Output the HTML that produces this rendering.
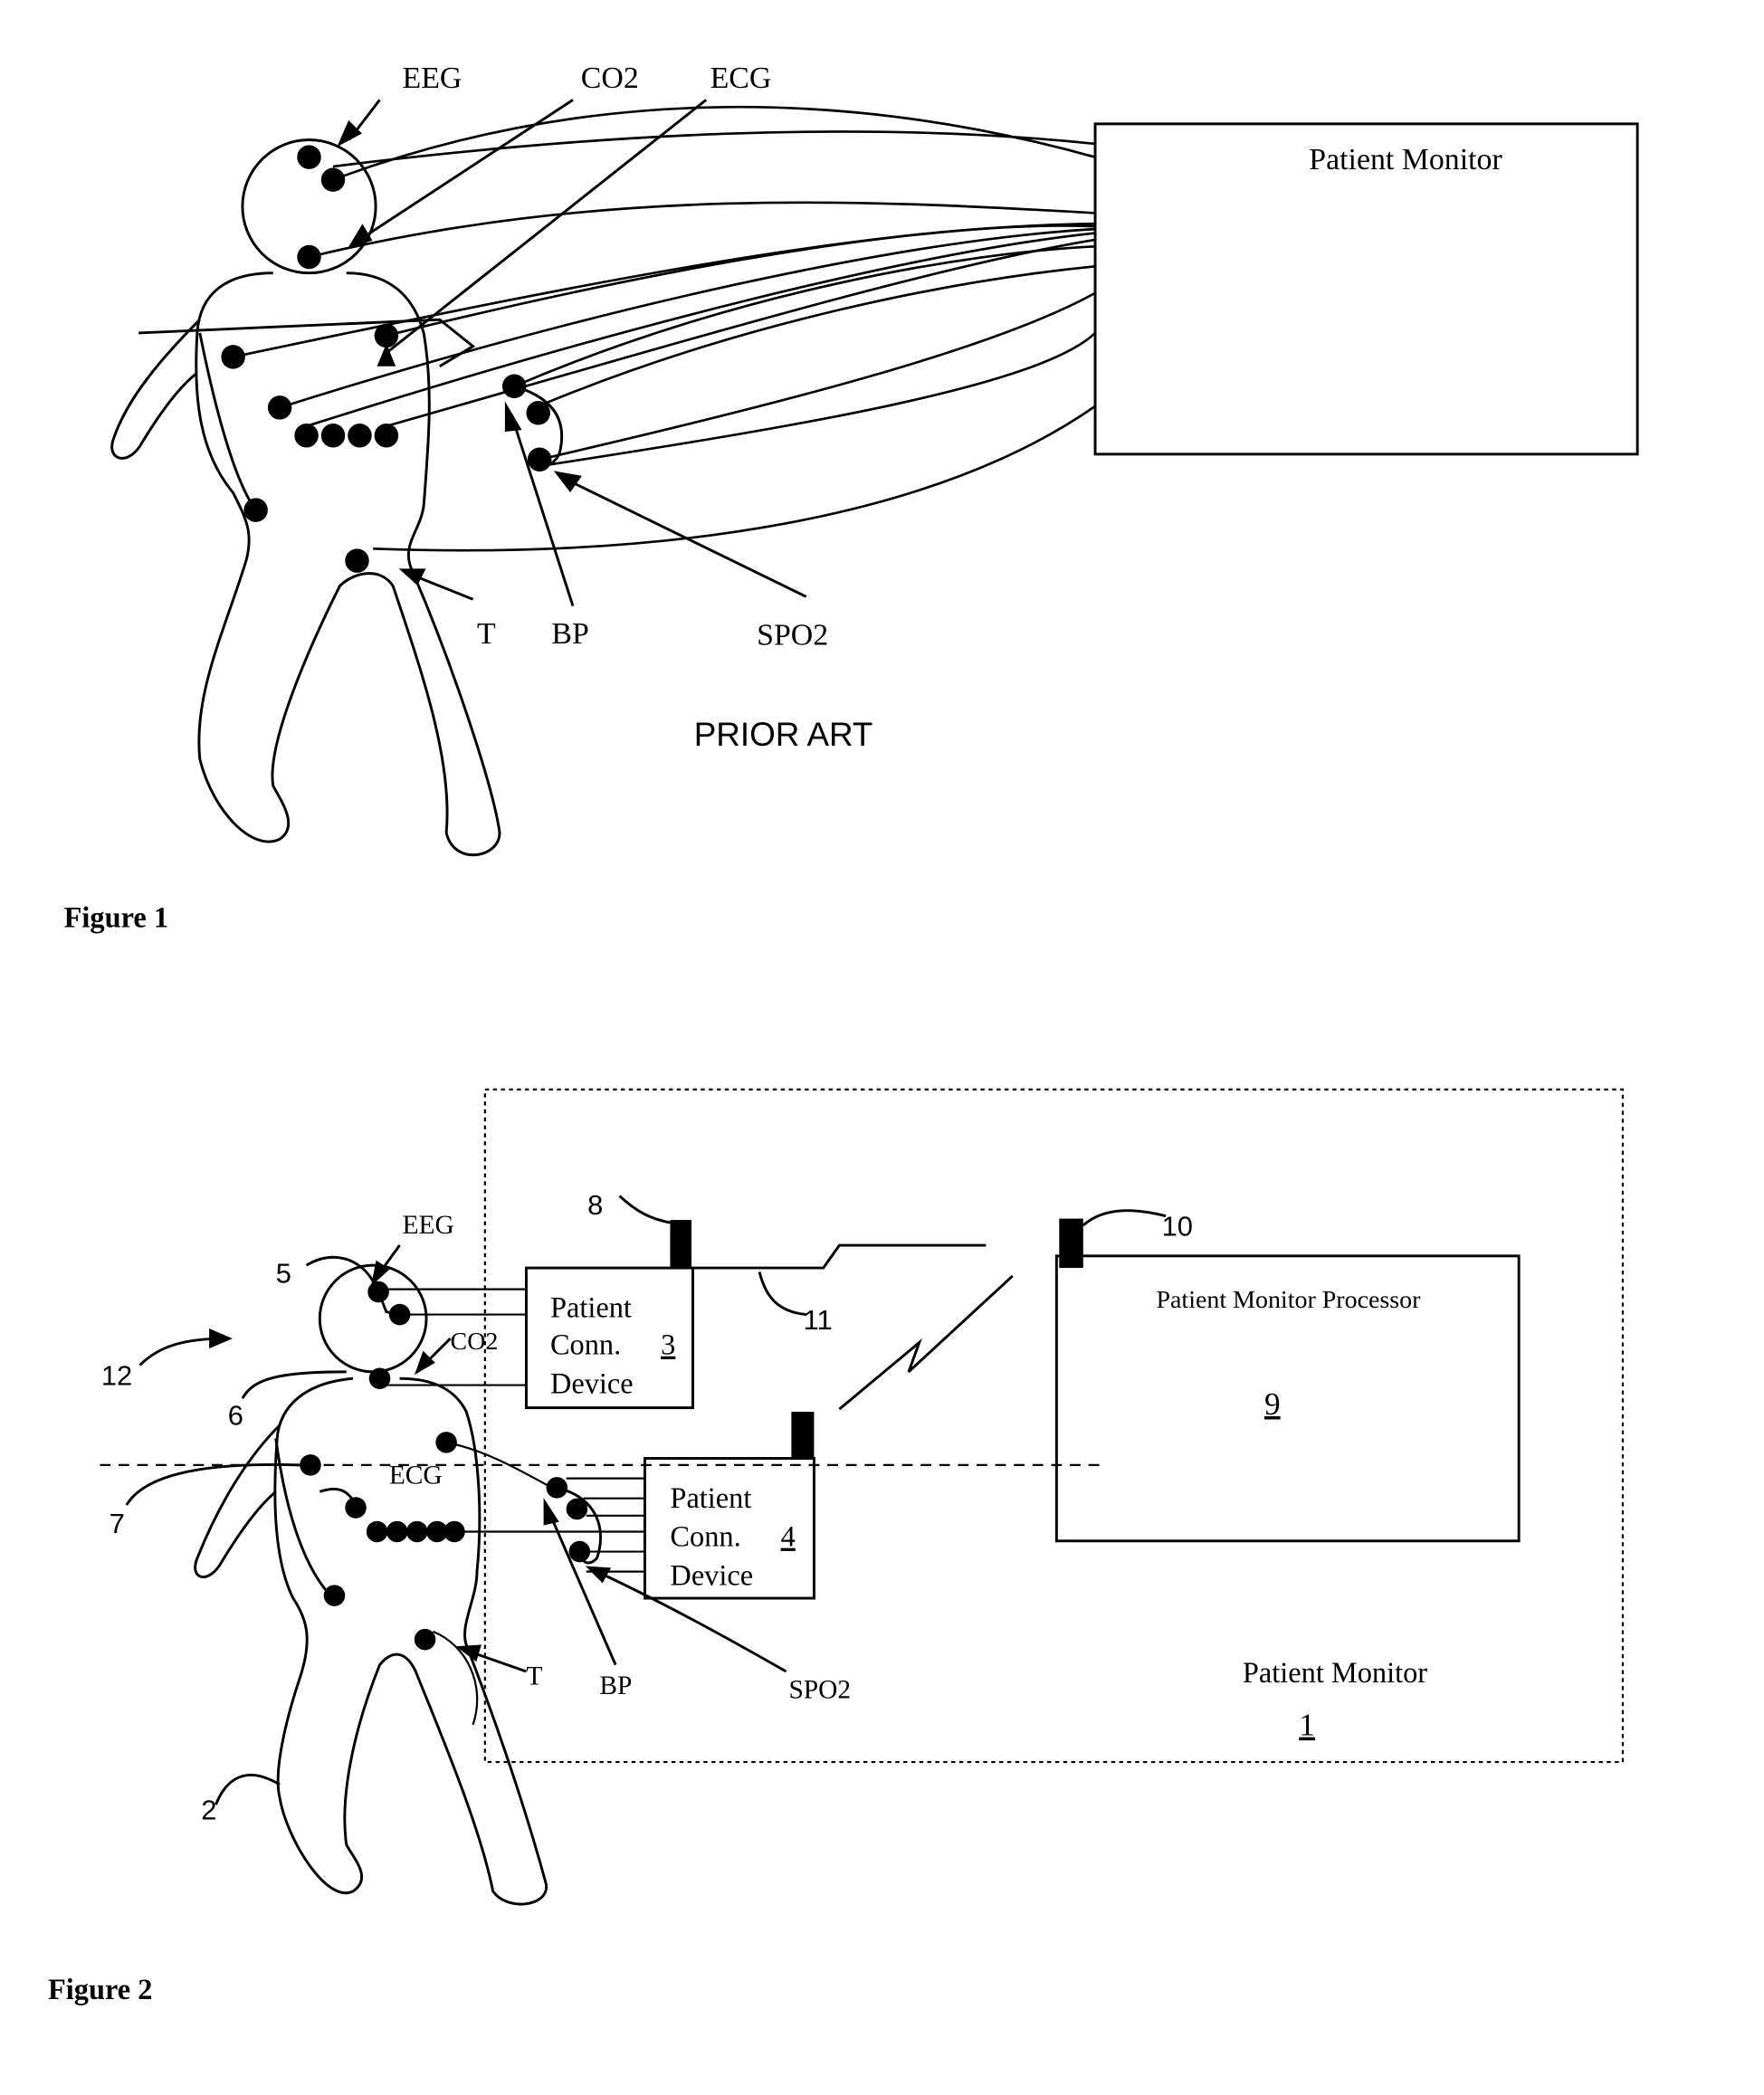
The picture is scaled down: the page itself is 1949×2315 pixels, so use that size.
<!DOCTYPE html>
<html><head><meta charset="utf-8"><style>html,body{margin:0;padding:0;background:#fff}svg{display:block}</style></head><body>
<svg width="1949" height="2315" viewBox="0 0 1324 1573" preserveAspectRatio="none" xmlns="http://www.w3.org/2000/svg" font-family="Liberation Serif, serif" fill="none" stroke="#000" stroke-width="2">
<!-- FIGURE 1 -->
<circle cx="232" cy="155" r="50"/>
<path d="M205 205 C170 205 150 220 148 250 C145 300 150 340 175 370 C185 390 190 400 185 420 C170 470 145 520 150 570 C160 610 190 640 210 630 C225 620 210 600 205 590 C200 560 230 490 255 440 C265 430 285 425 295 440 C315 500 340 570 335 625 C340 650 375 645 375 625 C370 590 340 500 310 430 C300 410 315 400 318 380 C322 330 325 290 318 250 C310 220 290 205 260 205"/>
<path d="M150 240 C120 270 95 300 85 330 C80 345 95 350 105 335 C120 310 135 290 148 280"/>
<path d="M104 250 L330 240 L355 260 L330 275"/>
<path d="M150 250 C160 300 175 360 192 383"/>
<g fill="#000" stroke="none">
<circle cx="232" cy="118" r="9"/><circle cx="250" cy="135" r="9"/><circle cx="232" cy="193" r="9"/>
<circle cx="175" cy="268" r="9"/><circle cx="290" cy="252" r="9"/><circle cx="210" cy="306" r="9"/>
<circle cx="230" cy="327" r="9"/><circle cx="250" cy="327" r="9"/><circle cx="270" cy="327" r="9"/><circle cx="290" cy="327" r="9"/>
<circle cx="386" cy="290" r="9"/><circle cx="404" cy="310" r="9"/><circle cx="405" cy="345" r="9"/>
<circle cx="192" cy="383" r="9"/><circle cx="268" cy="421" r="9"/>
<path d="M290 258 L283 275 L297 275 Z"/>
</g>
<path d="M386 290 C420 300 425 320 420 340 C415 352 405 350 405 345" />
<rect x="822" y="93" width="407" height="248"/>
<text x="1055" y="127" font-size="23" text-anchor="middle" fill="#000" stroke="none">Patient Monitor</text>
<g stroke-width="1.8">
<path d="M250 125 C450 100 650 90 822 108"/>
<path d="M250 135 C450 60 650 70 822 118"/>
<path d="M232 193 C450 140 650 150 822 160"/>
<path d="M175 268 C450 210 650 170 822 168"/>
<path d="M290 252 C500 200 700 165 822 170"/>
<path d="M210 306 C450 230 680 180 822 172"/>
<path d="M230 320 C450 250 680 190 822 175"/>
<path d="M290 320 C500 260 700 200 822 180"/>
<path d="M386 290 C550 220 720 190 822 185"/>
<path d="M404 305 C560 240 720 210 822 200"/>
<path d="M405 345 C600 300 750 260 822 220"/>
<path d="M405 350 C600 320 780 290 822 250"/>
<path d="M280 412 C500 420 700 390 822 305"/>
</g>
<!-- arrows fig1 -->
<path d="M285 75 L262 105"/><path d="M255 108 L262 92 L270 100 Z" fill="#000"/>
<path d="M430 75 L270 180"/><path d="M263 185 L272 170 L278 180 Z" fill="#000"/>
<path d="M530 75 L290 265"/>
<path d="M430 455 L385 315"/><path d="M380 305 L390 322 L380 323 Z" fill="#000"/>
<path d="M605 448 L425 360"/><path d="M418 355 L435 358 L428 368 Z" fill="#000"/>
<path d="M355 450 L310 432"/><path d="M302 428 L318 428 L313 438 Z" fill="#000"/>
<g fill="#000" stroke="none" font-size="23">
<text x="302" y="66">EEG</text><text x="436" y="66">CO2</text><text x="533" y="66">ECG</text>
<text x="358" y="483">T</text><text x="414" y="483">BP</text><text x="568" y="484">SPO2</text>
<text x="588" y="560" text-anchor="middle" font-family="Liberation Sans, sans-serif" font-size="25">PRIOR ART</text>
<text x="48" y="696" font-weight="bold" font-size="22">Figure 1</text>
</g>
<!-- FIGURE 2 -->
<rect x="364" y="818" width="854" height="505" stroke-dasharray="3 3" stroke-width="1.5"/>
<path d="M75 1100 L830 1100" stroke-dasharray="8 6" stroke-width="1.5"/>
<circle cx="280" cy="990" r="40"/>
<path d="M265 1035 C230 1038 210 1055 208 1080 C205 1120 205 1170 220 1200 C230 1215 235 1230 225 1260 C215 1290 205 1330 210 1350 C215 1380 245 1430 265 1420 C280 1410 265 1395 260 1385 C255 1350 265 1300 285 1250 C295 1238 305 1240 312 1255 C330 1300 360 1370 370 1420 C380 1435 412 1432 410 1415 C395 1360 375 1300 350 1235 C345 1220 358 1200 358 1180 C362 1140 360 1090 350 1060 C340 1040 320 1035 300 1035"/>
<path d="M210 1070 C180 1100 160 1140 148 1170 C142 1185 155 1190 165 1175 C180 1150 195 1130 207 1120"/>
<path d="M207 1080 C215 1140 230 1180 250 1200"/>
<g fill="#000" stroke="none">
<circle cx="284" cy="970" r="8"/><circle cx="300" cy="987" r="8"/><circle cx="285" cy="1035" r="8"/>
<circle cx="335" cy="1083" r="8"/><circle cx="233" cy="1100" r="8"/><circle cx="267" cy="1132" r="8"/>
<circle cx="283" cy="1150" r="8"/><circle cx="298" cy="1150" r="8"/><circle cx="313" cy="1150" r="8"/><circle cx="328" cy="1150" r="8"/><circle cx="341" cy="1150" r="8"/>
<circle cx="418" cy="1117" r="8"/><circle cx="433" cy="1133" r="8"/><circle cx="435" cy="1165" r="8"/>
<circle cx="251" cy="1198" r="8"/><circle cx="319" cy="1231" r="8"/>
</g>
<path d="M284 970 L290 985 L300 987"/>
<path d="M418 1117 C450 1125 455 1150 448 1170 C440 1178 435 1170 435 1165"/>
<g stroke-width="1.5">
<path d="M290 968 L395 968"/><path d="M305 987 L395 987"/><path d="M290 1040 L395 1040"/>
<path d="M335 1083 C370 1090 400 1110 420 1120"/>
<path d="M425 1110 L484 1110"/><path d="M438 1125 L484 1125"/><path d="M440 1138 L484 1138"/>
<path d="M340 1150 L484 1150"/><path d="M440 1165 L484 1165"/><path d="M440 1180 L484 1180"/>
<path d="M325 1225 C350 1235 365 1265 355 1295"/>
</g>
<rect x="395" y="952" width="125" height="105"/>
<rect x="484" y="1095" width="127" height="105"/>
<rect x="793" y="943" width="347" height="214"/>
<g fill="#000" stroke="none">
<rect x="503" y="916" width="16" height="36"/>
<rect x="594" y="1060" width="17" height="35"/>
<rect x="795" y="915" width="18" height="37"/>
</g>
<path d="M520 952 L618 952 L630 935 L740 935"/>
<path d="M630 1058 L690 1008 L682 1030 L760 958"/>
<path d="M570 955 C575 975 585 985 605 987"/>
<path d="M465 898 C478 910 488 915 503 918"/>
<path d="M813 920 C830 905 855 908 875 913"/>
<path d="M230 950 C250 938 270 945 280 962"/>
<path d="M182 1050 C190 1035 210 1030 260 1030"/>
<path d="M95 1130 C110 1105 160 1098 225 1100"/>
<path d="M105 1025 C120 1010 140 1005 170 1005"/><path d="M172 1005 L158 999 L158 1011 Z" fill="#000"/>
<path d="M162 1355 C170 1335 185 1325 210 1340"/>
<path d="M240 1120 C255 1115 262 1120 267 1130"/>
<path d="M300 935 L284 957"/><path d="M280 963 L283 948 L291 953 Z" fill="#000"/>
<path d="M338 1005 L318 1025"/><path d="M313 1030 L318 1016 L325 1023 Z" fill="#000"/>
<path d="M462 1250 L412 1135"/><path d="M409 1128 L418 1142 L409 1144 Z" fill="#000"/>
<path d="M590 1255 C520 1215 480 1195 448 1180"/><path d="M442 1177 L457 1178 L452 1187 Z" fill="#000"/>
<path d="M395 1255 L352 1240"/><path d="M345 1237 L360 1236 L357 1246 Z" fill="#000"/>
<g fill="#000" stroke="none" font-size="22">
<text x="302" y="926" font-size="20">EEG</text><text x="338" y="1013" font-size="19">CO2</text><text x="292" y="1114" font-size="20">ECG</text>
<text x="413" y="989">Patient</text><text x="413" y="1017">Conn.</text><text x="496" y="1017" text-decoration="underline">3</text><text x="413" y="1046">Device</text>
<text x="503" y="1132">Patient</text><text x="503" y="1161">Conn.</text><text x="586" y="1161" text-decoration="underline">4</text><text x="503" y="1190">Device</text>
<text x="967" y="982" text-anchor="middle" font-size="19">Patient Monitor Processor</text>
<text x="955" y="1062" text-anchor="middle" text-decoration="underline" font-size="24">9</text>
<text x="1002" y="1263" text-anchor="middle">Patient Monitor</text>
<text x="981" y="1303" text-anchor="middle" text-decoration="underline" font-size="24">1</text>
<text x="441" y="912" font-family="Liberation Sans, sans-serif" font-size="21">8</text>
<text x="872" y="928" font-family="Liberation Sans, sans-serif" font-size="21">10</text>
<text x="603" y="998" font-family="Liberation Sans, sans-serif" font-size="21">11</text>
<text x="207" y="963" font-family="Liberation Sans, sans-serif" font-size="21">5</text>
<text x="171" y="1070" font-family="Liberation Sans, sans-serif" font-size="21">6</text>
<text x="82" y="1151" font-family="Liberation Sans, sans-serif" font-size="21">7</text>
<text x="76" y="1040" font-family="Liberation Sans, sans-serif" font-size="21">12</text>
<text x="151" y="1366" font-family="Liberation Sans, sans-serif" font-size="21">2</text>
<text x="395" y="1265" font-size="20">T</text><text x="450" y="1272" font-size="20">BP</text><text x="592" y="1275" font-size="20">SPO2</text>
<text x="36" y="1501" font-weight="bold" font-size="22">Figure 2</text>
</g>
</svg>
</body></html>
